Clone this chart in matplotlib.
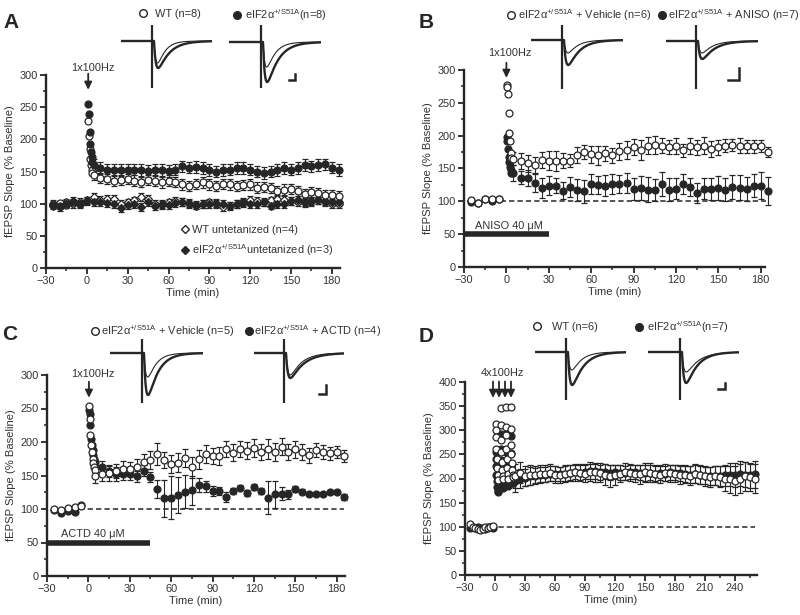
import numpy as np
import matplotlib
matplotlib.use('Agg')
import matplotlib.pyplot as plt
from matplotlib.lines import Line2D
from matplotlib.ticker import MultipleLocator

plt.rcParams['font.family'] = ['Liberation Sans', 'DejaVu Sans']
plt.rcParams['mathtext.fontset'] = 'custom'
plt.rcParams['mathtext.rm'] = 'Liberation Sans'
plt.rcParams['mathtext.it'] = 'Liberation Sans:italic'
plt.rcParams['mathtext.bf'] = 'Liberation Sans:bold'

# ---------------------------------------------------------------- data
MUT = r'eIF2α$^{\mathrm{+/S51A}}$'

# Panel A
A_base_t = [-25, -20, -15, -10, -5]
A_dense_t = [1, 1.5, 2, 2.5, 3, 3.5, 4]
A_post_t = list(range(5, 190, 5))
A_untet_t = list(range(-25, 190, 5))
A_mut_tet = ([98, 96, 100, 102, 99] + [255, 240, 212, 193, 180, 172, 165] +
             [160, 155, 152, 153, 152, 152, 153, 152, 151, 153, 152, 151, 153, 158, 156, 157,
              155, 152, 150, 152, 153, 155, 155, 153, 150, 148, 150, 152, 155, 153, 155, 160,
              158, 160, 161, 156, 152])
A_wt_tet = ([100, 101, 98, 103, 100] + [228, 205, 185, 170, 160, 152, 147] +
            [145, 140, 138, 135, 137, 138, 136, 134, 137, 135, 133, 136, 134, 130, 128, 131,
             133, 130, 128, 131, 130, 127, 129, 130, 125, 126, 124, 120, 122, 123, 120, 115,
             118, 117, 114, 113, 112])
A_wt_untet = [100, 98, 102, 100, 103, 105, 110, 106, 108, 107, 100, 102, 105, 110, 108, 100,
              98, 102, 104, 103, 101, 98, 100, 102, 99, 95, 97, 100, 103, 106, 104, 103, 105,
              107, 106, 104, 103, 101, 103, 105, 102, 100, 100]
A_mut_untet = [97, 95, 99, 104, 100, 104, 103, 102, 101, 100, 93, 98, 100, 95, 103, 96, 99,
               98, 101, 103, 100, 97, 99, 100, 101, 99, 96, 100, 101, 99, 100, 102, 97, 99,
               100, 104, 106, 103, 104, 105, 104, 102, 103]
A_err = {'mut_tet': 9, 'wt_tet': 8, 'wt_untet': 6, 'mut_untet': 6}

# Panel B
B_base_t = [-25, -20, -15, -10, -5]
B_dense_t = [0.2, 0.5, 1, 1.5, 2, 2.5, 3, 3.5]
B_post_t = list(range(5, 190, 5))
B_veh = ([102, 98, 104, 103, 103] + [277, 274, 263, 234, 204, 192, 174, 166] +
         [165, 161, 158, 155, 163, 162, 161, 162, 162, 170, 175, 172, 170, 173, 170, 176,
          178, 183, 178, 185, 186, 185, 183, 184, 178, 184, 182, 185, 180, 182, 185, 186,
          185, 184, 184, 184, 175])
B_aniso = ([99, 97, 104, 100, 104] + [198, 192, 180, 168, 160, 152, 147, 143] +
           [143, 136, 135, 128, 120, 124, 124, 116, 122, 117, 115, 126, 125, 124, 126, 126,
            128, 119, 120, 118, 117, 126, 118, 119, 126, 122, 113, 119, 119, 120, 118, 122,
            121, 119, 124, 124, 116])
B_veh_err = [10, 12, 13, 12, 12, 14, 15, 12, 10, 12, 11, 13, 14, 12, 11, 13, 14, 12, 15, 13,
             14, 12, 11, 12, 10, 12, 11, 13, 12, 11, 10, 9, 11, 10, 10, 9, 8]
B_aniso_err = [12, 10, 12, 14, 15, 14, 12, 13, 15, 17, 18, 15, 14, 16, 15, 14, 15, 17, 18, 19,
               17, 18, 17, 16, 15, 14, 15, 16, 17, 18, 17, 18, 19, 18, 17, 20, 21]
ANISO_WINDOW = (-30, 30)

# Panel C
C_base_t = [-25, -20, -15, -10, -5]
C_dense_t = [0.5, 1, 1.5, 2, 2.5, 3, 3.5, 4, 4.5]
C_post_t = list(range(5, 190, 5))
C_veh = ([100, 99, 101, 103, 104] + [254, 235, 210, 195, 185, 175, 168, 162, 158] +
         [149, 152, 154, 157, 160, 160, 162, 170, 173, 182, 173, 167, 169, 176, 162, 174,
          182, 179, 179, 189, 184, 189, 187, 191, 185, 190, 185, 193, 185, 189, 185, 180,
          188, 185, 183, 185, 179])
C_actd = ([98, 94, 97, 95, 106] + [248, 242, 225, 205, 195, 188, 180, 175, 170] +
          [163, 162, 156, 152, 152, 152, 149, 157, 148, 130, 116, 117, 121, 126, 128, 136,
           134, 127, 127, 118, 127, 132, 124, 133, 127, 117, 122, 123, 122, 130, 126, 123,
           123, 123, 126, 125, 118])
C_veh_err = [10, 10, 12, 10, 11, 10, 12, 12, 14, 16, 12, 13, 14, 13, 15, 14, 13, 12, 14, 12,
             13, 12, 13, 14, 12, 15, 14, 13, 12, 13, 12, 11, 10, 11, 10, 9, 9]
C_actd_err = [8, 9, 8, 10, 9, 9, 8, 8, 7, 14, 28, 32, 27, 25, 22, 10, 8, 7, 6, 8, 5, 4, 4, 5,
              5, 25, 20, 10, 7, 5, 4, 3, 3, 3, 3, 3, 5]
ACTD_WINDOW = (-30, 45)

# Panel D
D_base_t = [-25, -22.5, -20, -17.5, -15, -12.5, -10, -7.5, -5, -2.5]
D_dense_t = [0.5, 0.8, 1.1, 1.4, 1.7, 2.0, 2.5, 3.0,
             5.5, 5.8, 6.1, 6.4, 6.7, 7.0, 7.5, 8.0,
             10.5, 10.8, 11.1, 11.4, 11.7, 12.0, 12.5, 13.0,
             15.5, 15.8, 16.1, 16.4, 16.7, 17.0, 17.5, 18.0]
D_post_t = list(range(20, 265, 5))
D_wt = ([106, 100, 97, 95, 93, 96, 99, 98, 100, 102] +
        [313, 300, 287, 262, 240, 222, 208, 196,
         346, 311, 280, 255, 235, 218, 205, 198,
         349, 307, 290, 262, 240, 222, 210, 200,
         348, 302, 270, 250, 232, 218, 208, 203] +
        [205, 212, 205, 207, 208, 210, 210, 212, 208, 207, 210, 212, 213, 212, 210, 214,
         213, 212, 208, 205, 207, 210, 214, 212, 210, 209, 213, 212, 210, 208, 212, 211,
         210, 207, 208, 206, 210, 208, 205, 203, 206, 204, 200, 198, 195, 200, 205, 203, 200])
D_mut = ([98, 99, 97, 100, 98, 97, 96, 99, 100, 98] +
         [255, 240, 225, 208, 195, 183, 175, 172,
          293, 262, 238, 220, 205, 192, 185, 180,
          292, 255, 235, 215, 200, 190, 186, 184,
          288, 252, 230, 212, 200, 192, 190, 190] +
         [195, 200, 202, 205, 205, 207, 208, 210, 210, 209, 210, 212, 213, 212, 214, 215,
          215, 213, 214, 212, 213, 212, 211, 214, 213, 212, 211, 212, 210, 212, 210, 213,
          212, 211, 210, 208, 209, 207, 206, 205, 206, 205, 207, 208, 207, 210, 208, 207, 209])
D_wt_err = [25, 22, 20, 20, 18, 18, 18, 18, 17, 17, 17, 17, 18, 18, 18, 20, 20, 20, 22, 22,
            20, 18, 18, 18, 18, 20, 20, 20, 18, 18, 18, 18, 18, 18, 18, 20, 20, 20, 20, 20,
            20, 22, 25, 28, 30, 30, 30, 28, 30]
D_mut_err = [22, 20, 18, 18, 16, 16, 16, 16, 15, 15, 15, 15, 15, 15, 16, 16, 16, 16, 16, 16,
             15, 15, 15, 15, 15, 16, 16, 16, 16, 16, 16, 16, 16, 17, 17, 18, 18, 18, 18, 18,
             20, 20, 22, 24, 25, 26, 26, 26, 28]
D_TRAINS = [-2, 4, 10, 16]

# example sweeps: (thin depth, thick depth, thin decay, thick decay)
TRACES = {
    'A': [(22, 27, 7, 11), (25, 40, 8, 11)],
    'B': [(13, 25, 9, 11), (12, 18, 10, 12)],
    'C': [(24, 42, 8, 10), (22, 25, 11, 13)],
    'D': [(18, 33, 9, 11), (20, 31, 12, 11)],
}

# ---------------------------------------------------------------- style
INK = '#262626'
TXT = '#333333'
W, H = 800, 615
TICK_FS = 7.9
LAB_FS = 8.1
LEG_FS = 7.9

fig = plt.figure(figsize=(W / 100, H / 100), dpi=100)


def make_axes(l, r, t, b):
    return fig.add_axes([l / W, 1 - b / H, (r - l) / W, (b - t) / H])


def style(ax, xlim, ymax, xticks):
    ax.set_xlim(*xlim)
    ax.set_ylim(0, ymax)
    ax.patch.set_alpha(0)
    for s in ['top', 'right']:
        ax.spines[s].set_visible(False)
    for s in ['left', 'bottom']:
        ax.spines[s].set_linewidth(1.7)
        ax.spines[s].set_color(INK)
    ax.set_xticks(xticks)
    ax.set_yticks(np.arange(0, ymax + 1, 50))
    ax.xaxis.set_minor_locator(MultipleLocator(15))
    ax.yaxis.set_minor_locator(MultipleLocator(25))
    ax.tick_params(which='major', direction='out', length=4, width=1.3, labelsize=TICK_FS,
                   colors=INK, labelcolor=TXT, pad=2)
    ax.tick_params(which='minor', direction='out', length=2.3, width=1.1, colors=INK)
    ax.set_xlabel('Time (min)', fontsize=LAB_FS, color=TXT, labelpad=1)
    ax.set_ylabel('fEPSP Slope (% Baseline)', fontsize=LAB_FS, color=TXT, labelpad=3)


def series(ax, t, y, e, filled, marker='o', ms=5.0, z=3):
    ax.errorbar(t, y, yerr=e, fmt=marker, ms=ms, mfc=INK if filled else 'white', mec=INK,
                mew=0.9, ecolor=INK, elinewidth=0.8, capsize=2.3, capthick=0.8, zorder=z,
                clip_on=False)


def full_err(n_base, n_dense, post, base_err=3):
    post = post if isinstance(post, list) else [post] * len(A_post_t)
    return [base_err] * n_base + [0] * n_dense + post


def arrow(ax, x, y0, y1):
    ax.annotate('', xy=(x, y1), xytext=(x, y0), annotation_clip=False,
                arrowprops=dict(arrowstyle='-|>,head_length=0.45,head_width=0.22', lw=1.3,
                                color=INK, shrinkA=0, shrinkB=0))


def top_item(xm, xt, y, label, filled, fs=LEG_FS):
    em = fs * 100 / 72
    h = Line2D([], [], ls='none', marker='o', ms=5.5, mfc=INK if filled else 'white',
               mec=INK, mew=1.0)
    fig.legend([h], [label], loc='center left', bbox_to_anchor=((xm - 0.3 * em) / W, 1 - y / H),
               frameon=False, fontsize=fs, handlelength=0.6,
               handletextpad=(xt - xm - 0.3 * em) / em,
               borderpad=0, borderaxespad=0, labelcolor=TXT)


def draw_trace(x0, x1, ytop, ybase, ybot, xart, params):
    d_thin, d_thick, tau_thin, tau_thick = params
    ax = fig.add_axes([x0 / W, 1 - ybot / H, (x1 - x0) / W, (ybot - ytop) / H])
    ax.axis('off')
    ax.set_xlim(0, x1 - x0)
    ax.set_ylim(-(ybot - ybase), ybase - ytop)
    t = np.linspace(0, x1 - x0, 800)
    for depth, tau, lw in [(d_thin, tau_thin, 0.8), (d_thick, tau_thick, 1.7)]:
        s = np.clip(t - (xart - x0) - 2.0, 0, None)
        f = np.exp(-s / tau) - np.exp(-s / 2.0)
        f = f / f.max()
        ax.plot(t, -depth * f, color=INK, lw=lw, solid_capstyle='butt')
    ax.plot([xart - x0] * 2, [-(ybot - ybase), ybase - ytop], color=INK, lw=1.6)


def scale_bar(xl, xr, yt, yb):
    fig.add_artist(Line2D([xr / W, xr / W, xl / W], [1 - yt / H, 1 - yb / H, 1 - yb / H],
                          color=INK, lw=1.8, solid_joinstyle='miter'))


# ---------------------------------------------------------------- panel A
axA = make_axes(46, 340, 75, 268)
style(axA, (-30, 186), 300, np.arange(-30, 181, 30))
series(axA, A_untet_t, A_wt_untet, A_err['wt_untet'], False, marker='D', ms=4.2)
series(axA, A_untet_t, A_mut_untet, A_err['mut_untet'], True, marker='D', ms=4.2)
tA = A_base_t + A_dense_t + A_post_t
series(axA, tA, A_wt_tet, full_err(5, 7, A_err['wt_tet']), False)
series(axA, tA, A_mut_tet, full_err(5, 7, A_err['mut_tet']), True)
arrow(axA, 1, 302, 277)
axA.text(4.5, 311, '1x100Hz', ha='center', va='center', fontsize=TICK_FS, color=TXT)
hA = [Line2D([], [], ls='none', marker='D', ms=4.5, mfc='white', mec=INK, mew=1),
      Line2D([], [], ls='none', marker='D', ms=4.5, mfc=INK, mec=INK, mew=1)]
axA.legend(hA, ['WT untetanized (n=4)', MUT + 'untetanized (n=3)'], loc='upper left',
           bbox_to_anchor=(0.44, 0.25), frameon=False, fontsize=LEG_FS, handlelength=0.7,
           handletextpad=0.35, labelspacing=0.6, borderpad=0, labelcolor=TXT)

# ---------------------------------------------------------------- panel B
axB = make_axes(464, 765, 70, 267)
style(axB, (-30, 183), 300, np.arange(-30, 181, 30))
axB.plot([-28, 184], [100, 100], ls=(0, (3.5, 2)), lw=1.1, color=INK, zorder=1, clip_on=False)
tB = B_base_t + B_dense_t + B_post_t
series(axB, tB, B_aniso, full_err(5, 8, B_aniso_err), True)
series(axB, tB, B_veh, full_err(5, 8, B_veh_err), False)
axB.plot(ANISO_WINDOW, [50, 50], lw=4, color=INK, solid_capstyle='butt', clip_on=False)
axB.text(2, 55, 'ANISO 40 μM', ha='center', va='bottom', fontsize=TICK_FS, color=TXT)
arrow(axB, 0, 311, 288)
axB.text(2.6, 326, '1x100Hz', ha='center', va='center', fontsize=TICK_FS, color=TXT)

# ---------------------------------------------------------------- panel C
axC = make_axes(47, 345, 375, 576)
style(axC, (-30, 186), 300, np.arange(-30, 181, 30))
axC.plot([-25, 185], [100, 100], ls=(0, (3.5, 2)), lw=1.1, color=INK, zorder=1, clip_on=False)
tC = C_base_t + C_dense_t + C_post_t
series(axC, tC, C_actd, full_err(5, 9, C_actd_err), True)
series(axC, tC, C_veh, full_err(5, 9, C_veh_err), False)
axC.plot(ACTD_WINDOW, [50, 50], lw=4, color=INK, solid_capstyle='butt', clip_on=False)
axC.text(3, 55, 'ACTD 40 μM', ha='center', va='bottom', fontsize=TICK_FS, color=TXT)
arrow(axC, 0.4, 290, 266)
axC.text(3.3, 302, '1x100Hz', ha='center', va='center', fontsize=TICK_FS, color=TXT)

# ---------------------------------------------------------------- panel D
axD = make_axes(465, 757, 382, 575)
style(axD, (-30, 262), 400, np.arange(-30, 241, 30))
axD.plot([-5, 260], [100, 100], ls=(0, (3.5, 2)), lw=1.1, color=INK, zorder=1, clip_on=False)
tD = D_base_t + D_dense_t + D_post_t
series(axD, tD, D_mut, [3] * 10 + [0] * 32 + D_mut_err, True)
series(axD, tD, D_wt, [3] * 10 + [0] * 32 + D_wt_err, False)
for tt in D_TRAINS:
    arrow(axD, tt, 401, 367)
axD.text(7, 419, '4x100Hz', ha='center', va='center', fontsize=TICK_FS, color=TXT)

# ---------------------------------------------------------------- headers, sweeps
for txt, x, y in [('A', 11, 23), ('B', 426, 22), ('C', 10, 335), ('D', 426, 336)]:
    fig.text(x / W, 1 - y / H, txt, fontsize=15, fontweight='bold', color=INK,
             ha='center', va='center')

top_item(143, 155, 14, 'WT (n=8)', False)
top_item(237, 245, 15, MUT + '(n=8)', True)
top_item(511, 518, 15, MUT + ' + Vehicle (n=6)', False)
top_item(662, 668, 15, MUT + ' + ANISO (n=7)', True)
top_item(95, 101, 331, MUT + ' + Vehicle (n=5)', False)
top_item(249, 254, 331, MUT + ' + ACTD (n=4)', True)
top_item(537, 552, 327, 'WT (n=6)', False)
top_item(639, 647, 327, MUT + '(n=7)', True)

# sweeps: x0, x1, ytop, ybase, ybot, xartifact
draw_trace(121, 212, 25, 41, 88, 152, TRACES['A'][0])
draw_trace(229, 321, 25, 42, 88, 261, TRACES['A'][1])
draw_trace(531, 623, 25, 40, 89, 562, TRACES['B'][0])
draw_trace(666, 758, 25, 41, 89, 696, TRACES['B'][1])
draw_trace(110, 203, 339, 353, 403, 142, TRACES['C'][0])
draw_trace(254, 344, 339, 353, 403, 284, TRACES['C'][1])
draw_trace(535, 626, 338, 352, 400, 566, TRACES['D'][0])
draw_trace(648, 739, 338, 352, 400, 680, TRACES['D'][1])

scale_bar(289, 295, 74, 80)
scale_bar(728, 739, 68, 80)
scale_bar(319, 326, 385, 394)
scale_bar(718, 725, 383, 389)

fig.savefig('out.png', dpi=100)
